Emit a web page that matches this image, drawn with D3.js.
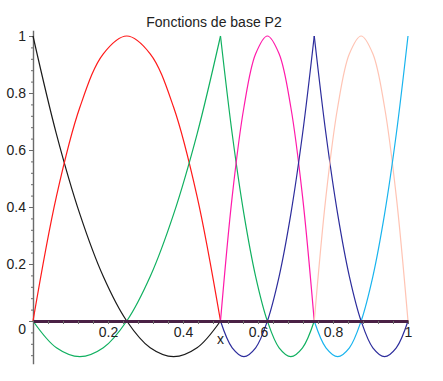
<!DOCTYPE html>
<html lang="fr">

<head>
    <meta charset="utf-8">
    <title>Fonctions de base P2</title>
    <script type="text/javascript" src="https://d3js.org/d3.v7.min.js"></script>
    <style>
        body {
            margin: 0;
            background: white;
        }

        text {
            font-family: "Liberation Sans", Arial, sans-serif;
            fill: #222;
        }

        .axis path,
        .axis line {
            stroke: #6a6a6a;
        }
    </style>
</head>

<body>
    <div id="chart"></div>
    <script type="text/javascript">
        const width = 443;
        const height = 381;

        // mesh nodes: 3 P2 elements [0,0.5], [0.5,0.75], [0.75,1]
        const nodes = [0, 0.5, 0.75, 1];
        // sample positions inside one element (0 = left node, 1 = right node)
        const tSample = [0, 0.125, 0.25, 0.375, 0.5, 0.625, 0.75, 0.875, 1];
        // shapes read off the plot on one element
        const falling = [1, 0.656, 0.375, 0.156, 0, -0.094, -0.125, -0.094, 0];
        const bubble = [0, 0.4375, 0.75, 0.9375, 1, 0.9375, 0.75, 0.4375, 0];
        const rising = [0, -0.094, -0.125, -0.094, 0, 0.156, 0.375, 0.656, 1];

        // which shape each basis function takes on each element (null = zero)
        const seriesNames = ["phi0", "phi1", "phi2", "phi3", "phi4", "phi5", "phi6"];
        const seriesColors = ["#1a1a1a", "#ff1a1a", "#10b060", "#ff1aaa", "#2c2c9c", "#ffc4b4", "#18b4ee"];
        const seriesPieces = [
            [falling, null, null],
            [bubble, null, null],
            [rising, falling, null],
            [null, bubble, null],
            [null, rising, falling],
            [null, null, bubble],
            [null, null, rising]
        ];

        const xMajor = [0.2, 0.4, 0.6, 0.8, 1];
        const yMajor = [0, 0.2, 0.4, 0.6, 0.8, 1];

        const svg = d3.select("#chart")
            .append("svg")
            .attr("width", width)
            .attr("height", height);

        const x = d3.scaleLinear().domain([0, 1]).range([33, 408]);
        const y = d3.scaleLinear().domain([-0.15, 1.02]).range([363.75, 30.3]);

        // y axis: minor ticks then major ticks with labels
        svg.append("g")
            .attr("class", "y axis")
            .attr("transform", `translate(${x(0)},0)`)
            .call(d3.axisLeft(y).tickValues(d3.range(-0.12, 1.001, 0.04)).tickSize(2).tickFormat("").tickSizeOuter(0))
            .call(g => g.select(".domain").attr("stroke-width", 1.4));
        const yAx = svg.append("g")
            .attr("class", "y axis")
            .attr("transform", `translate(${x(0)},0)`)
            .call(d3.axisLeft(y).tickValues(yMajor).tickSize(4).tickPadding(3).tickFormat(d3.format("")).tickSizeOuter(0));
        yAx.select(".domain").remove();
        yAx.selectAll("text").attr("font-size", 14)
            .attr("dy", d => d === 0 ? "0.9em" : "0.35em")
            .attr("x", -7);

        // the curves
        const line = d3.line()
            .x(d => x(d[0]))
            .y(d => y(d[1]))
            .curve(d3.curveCatmullRom);

        const curves = svg.append("g").attr("class", "curves");
        seriesNames.forEach((name, i) => {
            seriesPieces[i].forEach((shape, e) => {
                if (!shape) return;
                const a = nodes[e], b = nodes[e + 1];
                const pts = tSample.map((t, k) => [a + t * (b - a), shape[k]]);
                curves.append("path")
                    .attr("class", name)
                    .attr("d", line(pts))
                    .attr("fill", "none")
                    .attr("stroke", seriesColors[i])
                    .attr("stroke-width", 1.2);
            });
        });

        // x axis (zero line, where all the flat parts overlap)
        svg.append("g")
            .attr("class", "x axis")
            .attr("transform", `translate(0,${y(0)})`)
            .call(d3.axisBottom(x).tickValues(d3.range(0, 1.001, 0.04)).tickSize(3).tickFormat("").tickSizeOuter(0))
            .call(g => g.select(".domain").style("stroke", "#4a2145").style("stroke-width", 2.8));
        const xAx = svg.append("g")
            .attr("class", "x axis")
            .attr("transform", `translate(0,${y(0)})`)
            .call(d3.axisBottom(x).tickValues(xMajor).tickSize(0).tickFormat(d3.format("")));
        xAx.select(".domain").remove();
        xAx.selectAll("text").attr("font-size", 14).attr("y", 16).attr("dy", 0);

        svg.append("text")
            .attr("x", x(0.5))
            .attr("y", 344)
            .attr("text-anchor", "middle")
            .attr("font-size", 14)
            .text("x");

        svg.append("text")
            .attr("x", 214)
            .attr("y", 27)
            .attr("text-anchor", "middle")
            .attr("font-size", 14)
            .text("Fonctions de base P2");
    </script>
</body>

</html>
